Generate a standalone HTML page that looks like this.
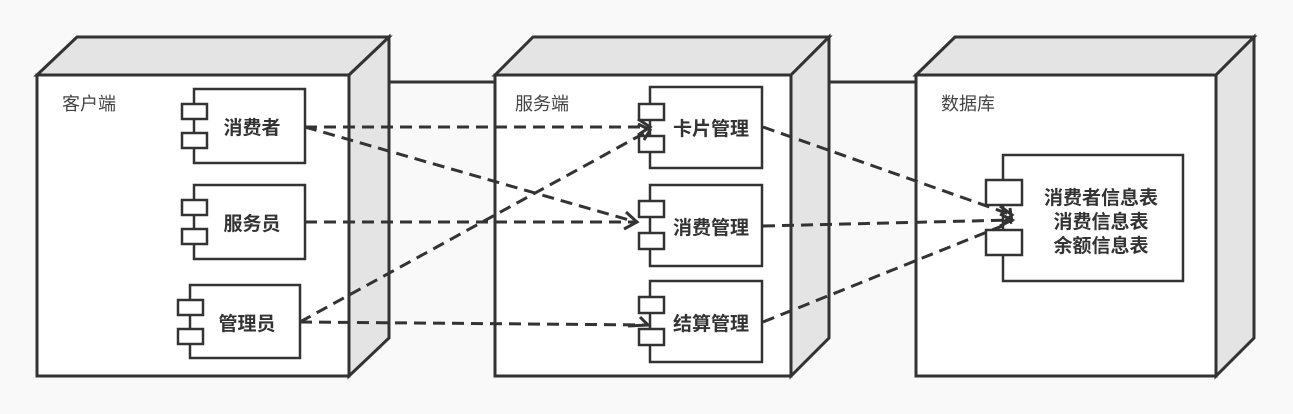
<!DOCTYPE html>
<html><head><meta charset="utf-8"><style>
html,body{margin:0;padding:0;background:#f9f9f9;}
svg{display:block}
text{font-family:"Liberation Sans","Noto Sans CJK SC",sans-serif;}
.b{font-weight:bold;font-size:19px;fill:#333;}
.l{font-size:18px;fill:#444;}
</style></head><body>
<svg width="1293" height="414" viewBox="0 0 1293 414" xmlns="http://www.w3.org/2000/svg">
<g stroke="#333" stroke-width="3" stroke-linejoin="miter">
<line x1="389" y1="82" x2="495" y2="82"/>
<line x1="829" y1="82" x2="916" y2="82"/>
<polygon points="37,75 77,37 389,37 349,75" fill="#e4e4e4"/>
<polygon points="349,75 389,37 389,338 349,376" fill="#e4e4e4"/>
<rect x="37" y="75" width="312" height="301" fill="#fff"/>
<polygon points="495,75 533,37 829,37 791,75" fill="#e4e4e4"/>
<polygon points="791,75 829,37 829,338 791,376" fill="#e4e4e4"/>
<rect x="495" y="75" width="296" height="301" fill="#fff"/>
<polygon points="916,75 955,37 1254,37 1216,75" fill="#e4e4e4"/>
<polygon points="1216,75 1254,37 1254,338 1216,376" fill="#e4e4e4"/>
<rect x="916" y="75" width="300" height="301" fill="#fff"/>
</g>
<g stroke="#333" stroke-width="2.5" fill="#fff">
<rect x="194" y="89" width="111" height="74"/>
<rect x="182" y="104" width="25" height="15"/><rect x="182" y="133" width="25" height="15"/>
<rect x="194" y="185" width="111" height="74"/>
<rect x="182" y="200" width="25" height="15"/><rect x="182" y="229" width="25" height="15"/>
<rect x="190" y="285" width="110" height="73"/>
<rect x="178" y="300" width="25" height="15"/><rect x="178" y="329" width="25" height="15"/>
<rect x="650" y="87" width="112" height="81"/>
<rect x="639" y="104" width="25" height="16"/><rect x="639" y="136" width="25" height="16"/>
<rect x="650" y="185" width="112" height="81"/>
<rect x="639" y="201" width="25" height="16"/><rect x="639" y="233" width="25" height="16"/>
<rect x="650" y="281" width="112" height="81"/>
<rect x="639" y="297" width="25" height="16"/><rect x="639" y="329" width="25" height="16"/>
<rect x="1003" y="155" width="180" height="126"/>
<rect x="986" y="180" width="36" height="25"/><rect x="986" y="230" width="36" height="25"/>
</g>
<g stroke="#333" stroke-width="3" fill="none" stroke-dasharray="12,7">
<line x1="305" y1="127" x2="650" y2="127"/>
<line x1="305" y1="127" x2="636" y2="222"/>
<line x1="305" y1="222" x2="636" y2="222"/>
<line x1="300" y1="322" x2="650" y2="130"/>
<line x1="300" y1="322" x2="648" y2="325"/>
<line x1="763" y1="127" x2="1012" y2="215"/>
<line x1="763" y1="226" x2="1012" y2="220"/>
<line x1="763" y1="322" x2="1012" y2="222"/>
</g>
<g stroke="#333" stroke-width="3" fill="none">
<polyline points="638,119 650,127 638,135"/>
<polyline points="626,212 637,222 624,229"/>
<polyline points="628,326 648,325 640,317"/>
<polyline points="638,124 650,130 644,140"/>
<polyline points="1000,206 1012,215 1004,222"/>
<polyline points="1000,214 1012,220 1000,226"/>
<polyline points="1010,208 1012,222"/>
</g>
<text class="l" x="62" y="110">客户端</text>
<text class="l" x="515" y="110">服务端</text>
<text class="l" x="941" y="110">数据库</text>
<text class="b" x="252" y="134" text-anchor="middle">消费者</text>
<text class="b" x="252" y="230" text-anchor="middle">服务员</text>
<text class="b" x="247" y="330" text-anchor="middle">管理员</text>
<text class="b" x="711" y="135" text-anchor="middle">卡片管理</text>
<text class="b" x="711" y="234" text-anchor="middle">消费管理</text>
<text class="b" x="711" y="330" text-anchor="middle">结算管理</text>
<text class="b" x="1101" y="204" text-anchor="middle">消费者信息表</text>
<text class="b" x="1101" y="228" text-anchor="middle">消费信息表</text>
<text class="b" x="1101" y="252" text-anchor="middle">余额信息表</text>
</svg>
</body></html>
